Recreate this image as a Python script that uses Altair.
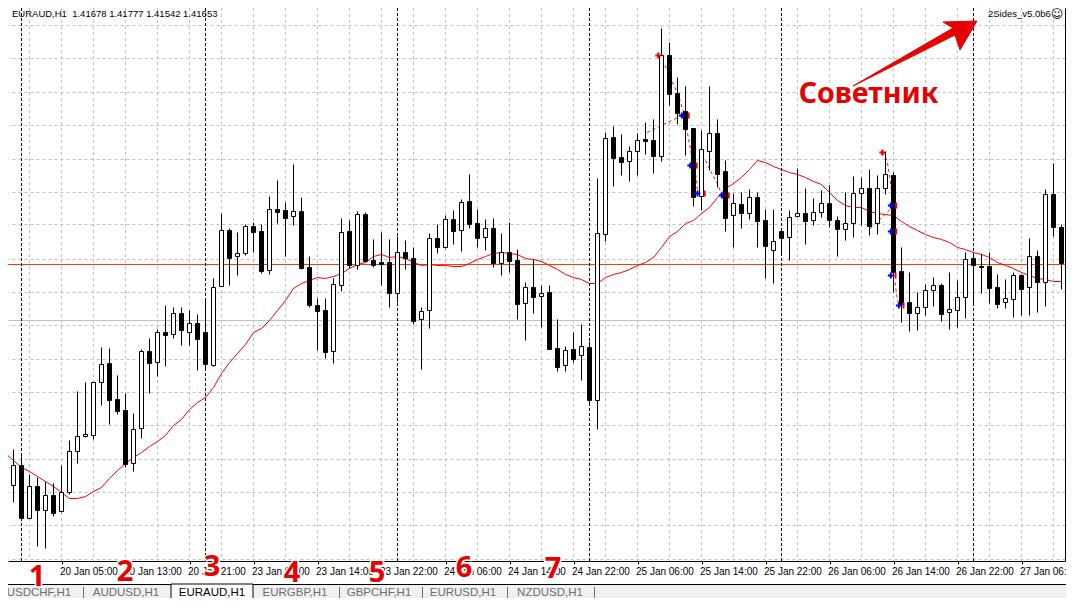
import altair as alt
import pandas as pd

# Prices are in units of 0.0001 (14165 = 1.4165)
highs = [13958,13980,13973,13955,13952,13948,13946,13964,13989,14038,14047,14047,14082,14081,14054,14036,14016,14080,14091,14100,
         14124,14122,14122,14119,14115,14130,14151,14216,14201,14197,14205,14207,14205,14233,14249,14227,14265,14232,14173,14131,
         14131,14151,14211,14209,14218,14217,14190,14197,14190,14193,14189,14182,14122,14196,14205,14214,14219,14230,14255,14220,
         14210,14211,14196,14207,14180,14147,14170,14144,14144,14110,14083,14097,14105,14088,14251,14297,14303,14295,14283,14296,
         14307,14310,14401,14387,14352,14343,14301,14299,14343,14310,14269,14236,14237,14240,14237,14220,14220,14198,14219,14261,
         14241,14231,14239,14244,14213,14237,14253,14252,14260,14254,14278,14257,14182,14157,14137,14145,14152,14146,14157,14149,
         14177,14177,14176,14177,14155,14150,14157,14155,14191,14179,14240,14266,14205]
lows = [13932,13927,13909,13911,13883,13881,13913,13917,13935,13966,13992,13990,14024,14005,14015,13962,13958,13991,14036,14053,
        14063,14091,14084,14084,14059,14061,14063,14143,14144,14154,14174,14177,14156,14155,14206,14173,14204,14160,14122,14079,
        14071,14066,14138,14161,14160,14167,14162,14144,14122,14127,14160,14105,14060,14101,14176,14181,14185,14178,14201,14182,
        14179,14162,14154,14157,14110,14089,14116,14102,14080,14058,14058,14067,14049,14026,14000,14188,14243,14254,14248,14254,
        14275,14256,14268,14324,14305,14274,14223,14219,14259,14242,14198,14182,14201,14210,14182,14151,14146,14175,14169,14212,
        14185,14204,14212,14202,14173,14189,14192,14204,14194,14195,14235,14137,14107,14098,14099,14114,14123,14108,14100,14102,
        14111,14124,14136,14126,14121,14121,14112,14114,14114,14117,14123,14193,14140]
body_tops = [13952,13964,13964,13943,13943,13934,13934,13937,13978,13993,13995,14047,14065,14066,14030,14019,14000,14078,14078,14097,
             14097,14116,14116,14106,14106,14097,14142,14199,14199,14176,14203,14203,14198,14220,14220,14219,14218,14218,14162,14124,
             14119,14145,14197,14198,14215,14215,14169,14167,14167,14177,14177,14171,14118,14191,14191,14210,14210,14227,14228,14206,
             14201,14201,14177,14177,14169,14142,14142,14136,14137,14081,14079,14080,14083,14082,14196,14291,14292,14272,14278,14289,
             14290,14289,14374,14374,14336,14318,14301,14280,14296,14296,14258,14226,14225,14232,14232,14209,14188,14198,14212,14216,
             14216,14217,14226,14226,14209,14206,14236,14241,14241,14241,14255,14254,14158,14127,14122,14139,14144,14144,14120,14132,
             14170,14171,14163,14163,14142,14131,14154,14154,14173,14173,14235,14235,14202]
body_bottoms = [13938,13944,13911,13911,13919,13919,13916,13918,13937,13978,13993,13994,14047,14029,14018,13965,13966,14001,14066,14067,
                14094,14095,14099,14097,14090,14065,14064,14143,14171,14173,14176,14197,14158,14159,14217,14211,14213,14161,14124,14118,
                14077,14078,14144,14164,14164,14168,14164,14165,14136,14136,14171,14108,14110,14119,14182,14182,14198,14199,14205,14191,
                14192,14166,14166,14168,14125,14126,14132,14133,14080,14062,14064,14070,14074,14029,14029,14195,14271,14267,14268,14278,
                14288,14273,14273,14335,14316,14300,14232,14233,14278,14255,14211,14214,14216,14216,14208,14183,14179,14191,14192,14213,
                14208,14209,14217,14209,14200,14200,14206,14236,14203,14206,14241,14157,14125,14116,14116,14122,14139,14115,14117,14119,
                14132,14164,14162,14141,14125,14127,14130,14140,14142,14147,14147,14202,14166]
white_candles = [1,3,5,7,8,9,10,11,12,16,17,19,21,23,26,27,29,30,33,36,41,42,44,49,52,53,55,57,60,62,65,67,70,72,74,75,78,79,82,87,88,
                 91,93,96,98,99,101,102,105,106,107,109,110,114,115,116,118,119,120,125,126,128,130]
moving_average = [13976,13969,13962,13958,13953,13948,13943,13937,13931,13931,13933,13938,13942,13951,13959,13966,13972,13977,13983,13988,
                  13994,14004,14010,14020,14027,14032,14042,14056,14067,14076,14085,14097,14101,14109,14119,14129,14141,14146,14149,14152,
                  14151,14153,14156,14161,14165,14167,14173,14175,14172,14173,14171,14167,14164,14165,14164,14164,14163,14163,14166,14170,
                  14173,14176,14177,14176,14175,14171,14170,14168,14164,14160,14155,14152,14150,14146,14146,14152,14155,14157,14160,14164,
                  14167,14172,14182,14193,14198,14206,14209,14216,14222,14232,14241,14246,14252,14260,14269,14267,14263,14260,14257,14255,
                  14252,14248,14245,14237,14229,14224,14222,14222,14218,14216,14215,14214,14208,14203,14199,14195,14192,14190,14187,14182,
                  14180,14177,14175,14172,14167,14164,14161,14157,14154,14151,14150,14148,14148]

time_labels = ["19 Jan 21:00","20 Jan 05:00","20 Jan 13:00","20 Jan 21:00","23 Jan 06:00","23 Jan 14:00","23 Jan 22:00",
               "24 Jan 06:00","24 Jan 14:00","24 Jan 22:00","25 Jan 06:00","25 Jan 14:00","25 Jan 22:00","26 Jan 06:00",
               "26 Jan 14:00","26 Jan 22:00","27 Jan 06:00"]
day_separators = [2,25,49,73,97,121]
bid_level = 14165
ask_level = 14109
price_grid = [14405,14371,14338,14305,14271,14238,14205,14171,14138,14105,14071,14038,14005,13971,13938,13905,13871]

sell_entries_i = [81.6,109.6]
sell_entries_p = [14374,14277]
buy_marks_i = [84.55,85.6,86.5,89.55,110.67,110.67,110.67,111.67]
buy_marks_p = [14314,14264,14236,14234,14224,14198,14154,14124]
exit_marks_i = [85.4,86.4,87.4,90.4,111.33,111.33,111.25,112.25]
exit_marks_p = buy_marks_p

trade_path_ids = [1,1,2,2,2,2,2,2,2,2,2,3,3,3,3,4,4,4,4,5,5,6,6,6]
trade_path_i = [80.2,84.55,81.6,82.65,83.6,84.0,84.7,85.25,85.6,86.4,86.5,87.5,88.3,89.1,89.55,109.6,110.2,110.6,110.7,108.1,110.7,111.2,111.4,111.67]
trade_path_p = [14297,14314,14374,14361,14343,14337,14319,14296,14281,14249,14236,14269,14256,14244,14234,14277,14269,14249,14241,14201,14221,14147,14134,14124]

tab_names = ["USDCHF,H1","AUDUSD,H1","EURAUD,H1","EURGBP,H1","GBPCHF,H1","EURUSD,H1","NZDUSD,H1"]
tab_numbers = ["1","2","3","4","5","6","7"]

# ---- layout (page pixels, the plot starts at page x=8, y=8) ----
W, H = 1057, 553
X_DOMAIN = [0.3125, 132.4375]
Y_DOMAIN = [13868.5, 14421.5]
UI = "Liberation Sans"
def px(v): return v - 8
tab_centers = [39,126,212,295,379,463,550]
tab_seps = [83,339,422,507,594]
number_xy = [(37,577),(125,572),(212,567),(292,573),(377,573),(464,568),(553,569)]

xs = alt.Scale(domain=X_DOMAIN, nice=False, zero=False, padding=0)
ys = alt.Scale(domain=Y_DOMAIN, nice=False, zero=False, padding=0)

n = len(highs)
candles = pd.DataFrame({"i": range(n), "high": highs, "low": lows, "top": body_tops, "bottom": body_bottoms,
                        "ma": moving_average})
candles["white"] = candles["i"].isin(white_candles)

label_js = "[" + ",".join(f"'{t}'" for t in time_labels) + "]"
tick_vals = [-1 + 8 * k for k in range(len(time_labels))]
grid_vals = [3 + 4 * k for k in range(33)]

x_axis = alt.Axis(
    values=tick_vals, grid=False, orient="bottom", title=None, domainColor="black", tickColor="black", tickSize=3,
    labelExpr=f"{label_js}[(datum.value+1)/8]", labelAlign="left", labelFlush=False, labelOverlap=False,
    labelBound=False, labelPadding=2, labelOffset=-2, labelFont=UI, labelFontSize=10, labelColor="black")
y_axis = alt.Axis(
    values=price_grid, orient="right", title=None, labels=False, grid=True, gridColor="#c0c0c0", gridDash=[3, 3],
    domainColor="black", tickColor="black", tickSize=1)
X = lambda f: alt.X(f, type="quantitative", scale=xs, axis=x_axis)
Y = lambda f: alt.Y(f, type="quantitative", scale=ys, axis=y_axis)

xgrid = alt.Chart(pd.DataFrame({"i": grid_vals})).mark_rule(
    color="#c0c0c0", strokeDash=[3, 3], strokeWidth=1).encode(x=X("i"))
levels = alt.Chart(pd.DataFrame({"p": [ask_level, bid_level], "c": ["#c0c0c0", "#ff3c00"]})).mark_rule(strokeWidth=1).encode(
    y=Y("p"), color=alt.Color("c:N", scale=None))
ma_line = alt.Chart(candles).mark_line(color="#ff0000", strokeWidth=1).encode(x=X("i"), y=Y("ma"))
separators = alt.Chart(pd.DataFrame({"i": day_separators})).mark_rule(color="black", strokeDash=[3, 2], strokeWidth=1).encode(x=X("i"))
trade_paths = alt.Chart(pd.DataFrame({"id": trade_path_ids, "i": trade_path_i, "p": trade_path_p})).mark_line(
    color="#ff0000", strokeDash=[3, 3], strokeWidth=1).encode(x=X("i"), y=Y("p"), detail="id:N")
wicks = alt.Chart(candles).mark_rule(color="black", strokeWidth=1).encode(x=X("i"), y=Y("high"), y2="low")
bodies = alt.Chart(candles).mark_bar(size=4, stroke="black", strokeWidth=1).encode(
    x=X("i"), y=Y("top"), y2="bottom",
    fill=alt.condition("datum.white", alt.value("white"), alt.value("black")))

PLUS = "M-1,0H1M0,-1V1"
BAR = "M0,-1V1"
sell_df = pd.DataFrame({"i": sell_entries_i, "p": sell_entries_p})
buy_df = pd.DataFrame({"i": buy_marks_i, "p": buy_marks_p})
exit_df = pd.DataFrame({"i": exit_marks_i, "p": exit_marks_p})
sell_pts = alt.Chart(sell_df).mark_point(shape=PLUS, size=36, stroke="#ff0000", strokeWidth=2, opacity=1).encode(x=X("i"), y=Y("p"))
buy_pts = alt.Chart(buy_df).mark_point(shape=PLUS, size=36, stroke="#0000ff", strokeWidth=2, opacity=1).encode(x=X("i"), y=Y("p"))
exit_pts = alt.Chart(exit_df).mark_point(shape=BAR, size=36, stroke="#ff0000", strokeWidth=2, opacity=1).encode(x=X("i"), y=Y("p"))

def pix_rect(x0, x1, y0, y1, **kw):
    return alt.Chart(pd.DataFrame({"a": [0]})).mark_rect(**kw).encode(
        x=alt.value(px(x0)), x2=alt.value(px(x1)), y=alt.value(px(y0)), y2=alt.value(px(y1)))

def pix_text(text, x, y, **kw):
    return alt.Chart(pd.DataFrame({"t": [text]})).mark_text(**kw).encode(
        text="t:N", x=alt.value(px(x)), y=alt.value(px(y)))

overlay = [
    pix_rect(0, 1066, 585, 602, color="#f0f0f0"),
    pix_rect(0, 1066, 584, 585, color="black"),
    pix_rect(171, 253, 584, 601, color="white", stroke="black", strokeWidth=1),
]
for s in tab_seps:
    overlay.append(pix_rect(s, s + 1, 587, 600, color="#707070"))
for name, cx in zip(tab_names, tab_centers):
    overlay.append(pix_text(name, cx, 593, font=UI, fontSize=11.5, align="center", baseline="middle",
                            color="black" if name == "EURAUD,H1" else "#6e6e6e"))
for num, (nx, ny) in zip(tab_numbers, number_xy):
    overlay.append(pix_text(num, nx, ny, font="Noto Sans", fontWeight="bold", fontSize=29, align="center", baseline="middle",
                            color="white", stroke="white", strokeWidth=3))
    overlay.append(pix_text(num, nx, ny, font="Noto Sans", fontWeight="bold", fontSize=29, align="center", baseline="middle",
                            color="#e60000"))

overlay.append(pix_text("EURAUD,H1\u00a0\u00a01.41678 1.41777 1.41542 1.41653", 12, 14, font=UI, fontSize=9.5, align="left",
                        baseline="middle", color="black"))
overlay.append(pix_text("2Sides_v5.0b6", 988, 14, font=UI, fontSize=9.5, align="left", baseline="middle", color="black"))
overlay.append(pix_text("☺", 1057, 14, font="DejaVu Sans", fontSize=12, align="center", baseline="middle", color="black"))

# arrow drawn as a single filled symbol
ARROW = "M-57,33 L43,-25 L33,-31 L67,-32 L50,-3 L45,-18 Z"
overlay.append(alt.Chart(pd.DataFrame({"a": [0]})).mark_point(shape=ARROW, size=4, filled=True, fill="#e60000", stroke="#e60000",
                                                              strokeWidth=1, opacity=1).encode(
    x=alt.value(px(910)), y=alt.value(px(53))))
overlay.append(pix_text("Советник", 868.5, 94, font="Noto Sans", fontWeight="bold", fontSize=28.6, align="center", baseline="middle",
                        color="white", stroke="white", strokeWidth=4))
overlay.append(pix_text("Советник", 868.5, 94, font="Noto Sans", fontWeight="bold", fontSize=28.6, align="center", baseline="middle",
                        color="#e60000"))

chart = alt.layer(
    xgrid, levels, ma_line, separators, trade_paths, wicks, bodies, sell_pts, buy_pts, exit_pts, *overlay
).properties(
    width=W, height=H,
    padding={"left": 0, "top": 0, "right": 1, "bottom": 37},
    autosize=alt.AutoSizeParams(type="none"),
    background="white",
).configure_view(stroke=None)

chart.save("out.html", embed_options={"renderer": "svg", "actions": False})
